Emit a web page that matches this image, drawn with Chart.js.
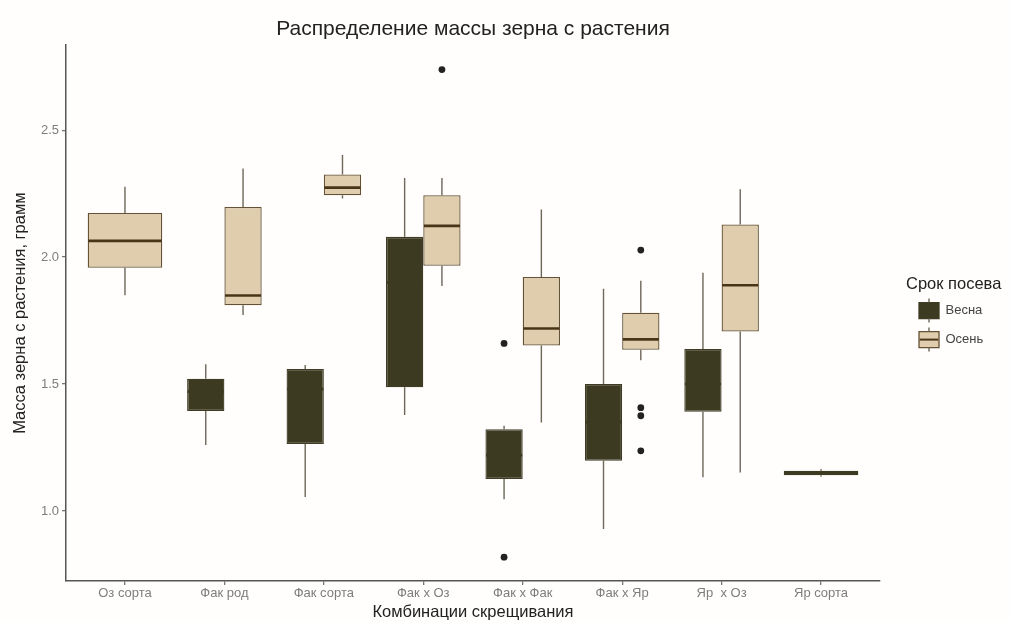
<!DOCTYPE html>
<html><head><meta charset="utf-8">
<script src="https://cdn.jsdelivr.net/npm/chart.js@4.4.1/dist/chart.umd.min.js"></script>
<style>
html,body{margin:0;padding:0;background:#fffefc;}
#wrap{width:1010px;height:621px;position:relative;}
</style>
</head><body>
<div id="wrap"><canvas id="c" width="1010" height="621"></canvas></div>
<script>
// ---------- data ----------
const categories = ['Оз сорта', 'Фак род', 'Фак сорта', 'Фак x Оз', 'Фак x Фак', 'Фак x Яр', 'Яр  x Оз', 'Яр сорта'];
const seriesNames = ['Весна', 'Осень'];

const springLow      = [null, 1.260, 1.055, 1.378, 1.046, 0.929, 1.133, 1.135];
const springQ1       = [null, 1.394, 1.264, 1.487, 1.126, 1.198, 1.391, 1.141];
const springMedian   = [null, 1.470, 1.480, 1.900, 1.220, 1.350, 1.500, 1.150];
const springQ3       = [null, 1.521, 1.559, 2.080, 1.322, 1.500, 1.638, 1.158];
const springHigh     = [null, 1.578, 1.575, 2.312, 1.336, 1.875, 1.938, 1.165];
const springOutliers = [[], [], [], [], [1.660, 0.818], [], [], []];

const autumnLow      = [1.850, 1.772, 2.231, 1.886, 1.348, 1.594, 1.151, null];
const autumnQ1       = [1.958, 1.810, 2.244, 1.966, 1.652, 1.635, 1.707, null];
const autumnMedian   = [2.064, 1.849, 2.274, 2.123, 1.719, 1.676, 1.889, null];
const autumnQ3       = [2.174, 2.198, 2.326, 2.244, 1.922, 1.781, 2.129, null];
const autumnHigh     = [2.277, 2.349, 2.402, 2.312, 2.188, 1.907, 2.267, null];
const autumnOutliers = [[], [], [], [2.739], [], [2.028, 1.407, 1.375, 1.237], [], []];

const yTickValues = [1.0, 1.5, 2.0, 2.5];
const yMin = 0.724, yMax = 2.835;

// ---------- styles ----------
const FONT = '"Liberation Sans", Arial, sans-serif';
const springFill = '#3d3a22', springLine = '#3f3b24';
const autumnFill = '#dfcdae', autumnLine = '#655133';
const whiskerColor = '#6e675a';
const medianColors = ['#3d3a22', '#4a3418'];

Chart.defaults.font.family = FONT;

function makeDataset(label, low, q1, med, q3, high, outs, fill, line, medColor) {
  return {
    label,
    data: categories.map((c, i) => ({ x: i, y: q1[i] == null ? null : [q1[i], q3[i]] })),
    backgroundColor: fill,
    borderColor: line,
    borderWidth: 1.3,
    borderSkipped: false,
    categoryPercentage: 0.75,
    barPercentage: 1.0,
    skipNull: true,
    stats: { low, median: med, high, outliers: outs, medianColor: medColor }
  };
}

const datasets = [
  makeDataset(seriesNames[0], springLow, springQ1, springMedian, springQ3, springHigh, springOutliers, springFill, springLine, medianColors[0]),
  makeDataset(seriesNames[1], autumnLow, autumnQ1, autumnMedian, autumnQ3, autumnHigh, autumnOutliers, autumnFill, autumnLine, medianColors[1])
];

// legend width estimate so chart area ends where the reference does
const legendFontSize = 13, legendBoxW = 20, legendPad = 13;
const mctx = document.createElement('canvas').getContext('2d');
mctx.font = legendFontSize + 'px ' + FONT;
const maxLabelW = Math.max(...seriesNames.map(s => mctx.measureText(s).width));
const legendW = legendPad + legendBoxW + legendFontSize / 2 + maxLabelW + 10;
const plotRight = 880;
const rightPad = 1010 - plotRight - legendW;

const boxPlugin = {
  id: 'boxWhiskers',
  beforeDatasetsDraw(chart) {
    const ctx = chart.ctx, ys = chart.scales.y;
    ctx.save();
    ctx.strokeStyle = whiskerColor;
    ctx.lineWidth = 1.4;
    chart.data.datasets.forEach((ds, di) => {
      const meta = chart.getDatasetMeta(di);
      const st = ds.stats;
      ds.data.forEach((d, i) => {
        if (d.y == null) return;
        const x = meta.data[i].x;
        ctx.beginPath();
        ctx.moveTo(x, ys.getPixelForValue(st.low[i]));
        ctx.lineTo(x, ys.getPixelForValue(d.y[0]));
        ctx.moveTo(x, ys.getPixelForValue(d.y[1]));
        ctx.lineTo(x, ys.getPixelForValue(st.high[i]));
        ctx.stroke();
      });
    });
    ctx.restore();
  },
  afterDatasetsDraw(chart) {
    const ctx = chart.ctx, ys = chart.scales.y;
    ctx.save();
    chart.data.datasets.forEach((ds, di) => {
      const meta = chart.getDatasetMeta(di);
      const st = ds.stats;
      ds.data.forEach((d, i) => {
        if (d.y == null) return;
        const el = meta.data[i];
        const x = el.x, half = el.width / 2 - 0.6;
        const ym = ys.getPixelForValue(st.median[i]);
        ctx.strokeStyle = st.medianColor;
        ctx.lineWidth = 2.6;
        ctx.lineCap = 'butt';
        ctx.beginPath();
        ctx.moveTo(x - half, ym);
        ctx.lineTo(x + half, ym);
        ctx.stroke();
        ctx.fillStyle = '#222';
        st.outliers[i].forEach(v => {
          ctx.beginPath();
          ctx.arc(x, ys.getPixelForValue(v), 3.4, 0, Math.PI * 2);
          ctx.fill();
        });
      });
    });
    ctx.restore();
  },
  afterLayout(chart) {
    const lg = chart.legend;
    if (!lg) return;
    const dx = 906 - lg.left, dy = 8;
    lg.left += dx; lg.top += dy; lg.bottom += dy;
    lg.width = 1010 - lg.left;
    lg.right = 1010;
  },
  afterDraw(chart) {
    const lg = chart.legend;
    if (!lg || !lg.legendHitBoxes) return;
    const ctx = chart.ctx;
    ctx.save();
    lg.legendHitBoxes.forEach((hb, i) => {
      const ds = chart.data.datasets[i];
      const cx = hb.left + legendBoxW / 2;
      const top = hb.top, bot = hb.top + 16;
      ctx.strokeStyle = whiskerColor;
      ctx.lineWidth = 1.4;
      ctx.beginPath();
      ctx.moveTo(cx, top - 4); ctx.lineTo(cx, top);
      ctx.moveTo(cx, bot); ctx.lineTo(cx, bot + 4);
      ctx.stroke();
      ctx.strokeStyle = ds.stats.medianColor;
      ctx.lineWidth = 2;
      ctx.beginPath();
      ctx.moveTo(hb.left + 0.7, (top + bot) / 2); ctx.lineTo(hb.left + legendBoxW - 0.7, (top + bot) / 2);
      ctx.stroke();
    });
    ctx.restore();
  }
};

new Chart(document.getElementById('c'), {
  type: 'bar',
  data: { datasets },
  plugins: [boxPlugin],
  options: {
    responsive: false,
    devicePixelRatio: 1,
    animation: false,
    layout: { padding: { left: 0, right: rightPad, top: 0, bottom: 0 } },
    plugins: {
      title: {
        display: true,
        fullSize: false,
        text: 'Распределение массы зерна с растения',
        color: '#222',
        font: { size: 21, weight: 'normal', family: FONT },
        padding: { top: 17, bottom: 3 }
      },
      legend: {
        display: true,
        position: 'right',
        align: 'center',
        title: {
          display: true,
          text: 'Срок посева',
          position: 'start',
          color: '#222',
          font: { size: 16.5, family: FONT, lineHeight: 0.8 },
          padding: 0
        },
        labels: {
          boxWidth: legendBoxW,
          boxHeight: 16,
          padding: legendPad,
          color: '#444',
          font: { size: legendFontSize, family: FONT }
        }
      },
      tooltip: { enabled: false }
    },
    scales: {
      x: {
        type: 'linear',
        min: -0.593,
        max: categories.length - 1 + 0.593,
        offset: false,
        afterBuildTicks(scale) { scale.ticks = categories.map((c, i) => ({ value: i })); },
        afterFit(scale) { scale.height = 40; },
        ticks: {
          autoSkip: false, maxRotation: 0, padding: 1,
          color: '#7d7d7d', font: { size: 13 },
          callback: (v, i) => categories[i]
        },
        grid: { display: true, offset: false, drawOnChartArea: false, drawTicks: true, tickLength: 4, color: '#777', lineWidth: 1.3 },
        border: { display: true, color: '#555', width: 1.5 },
        title: {
          display: true, text: 'Комбинации скрещивания', color: '#222',
          font: { size: 16.5, lineHeight: 1 }, padding: { top: 0, bottom: 0 }
        }
      },
      y: {
        type: 'linear',
        min: yMin, max: yMax,
        afterBuildTicks(scale) { scale.ticks = yTickValues.map(v => ({ value: v })); },
        afterFit(scale) { scale.width = 66; },
        ticks: { padding: 3, color: '#7d7d7d', font: { size: 13 }, callback: v => Number(v).toFixed(1) },
        grid: { display: true, drawOnChartArea: false, drawTicks: true, tickLength: 4, color: '#777', lineWidth: 1.3 },
        border: { display: true, color: '#555', width: 1.5 },
        title: {
          display: true, text: 'Масса зерна с растения, грамм', color: '#222',
          font: { size: 16.5, lineHeight: 1 }, padding: { top: 11.75, bottom: 0 }
        }
      }
    }
  }
});
</script>
</body></html>
